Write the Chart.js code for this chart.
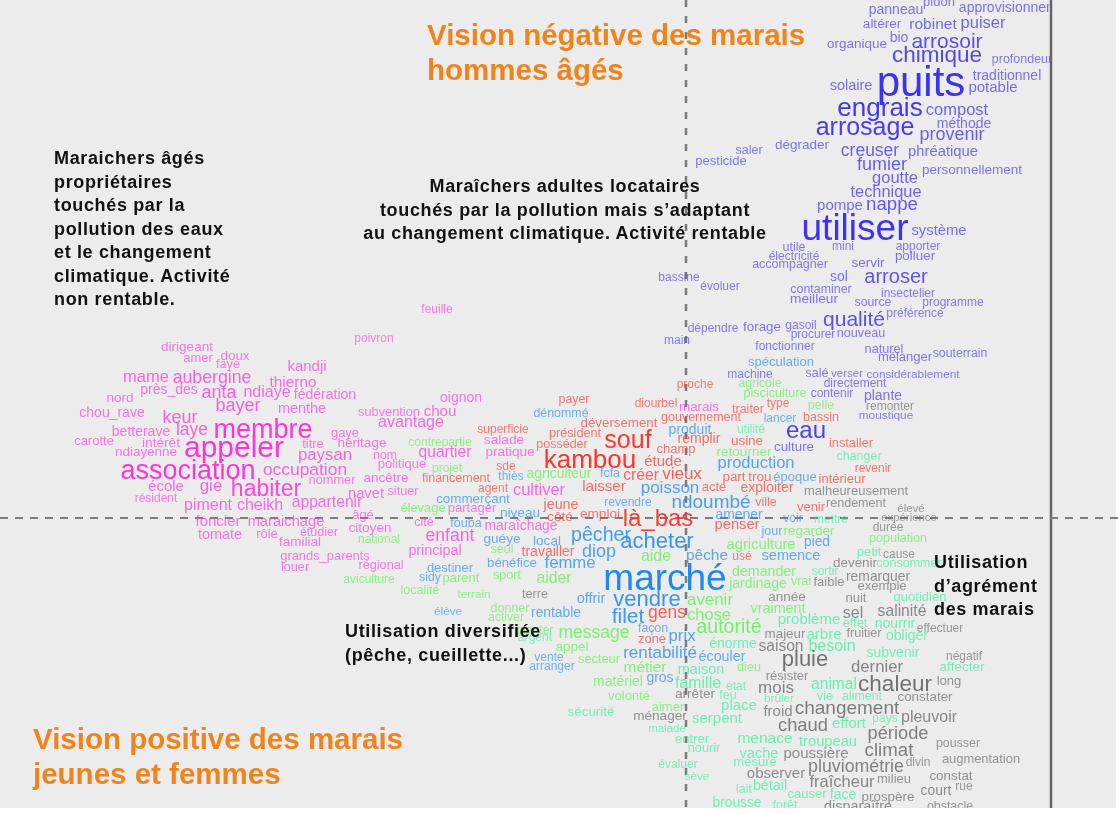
<!DOCTYPE html>
<html>
<head>
<meta charset="utf-8">
<script src="https://cdn.jsdelivr.net/npm/chart.js@4"></script>
<style>
html, body { margin: 0; padding: 0; background: #fff; }
#page { position: relative; width: 1118px; height: 814px; overflow: hidden; filter: blur(0.6px); }
#panel { position: absolute; left: 0; top: 0; width: 1116px; height: 808px; background: #ececec; }
canvas { position: absolute; left: 0; top: 0; }
.note { position: absolute; font-family: "Liberation Sans", Arial, sans-serif; font-weight: bold; white-space: nowrap; }
.black { color: #111; font-size: 18px; line-height: 23.5px; letter-spacing: 0.65px; }
.orange { color: #f0841c; font-size: 29.5px; line-height: 35px; }
</style>
</head>
<body>
<div id="page">
    <div id="panel"></div>
    <canvas id="cloud" width="1118" height="814"></canvas>
    <div class="note orange" style="left:427px;top:17px">Vision négative des marais<br>hommes âgés</div>
    <div class="note orange" style="left:33px;top:721px">Vision positive des marais<br>jeunes et femmes</div>
    <div class="note black" style="left:54px;top:147px">Maraichers âgés<br>propriétaires<br>touchés par la<br>pollution des eaux<br>et le changement<br>climatique. Activité<br>non rentable.</div>
    <div class="note black" style="left:360px;top:175px;width:410px;text-align:center">Maraîchers adultes locataires<br>touchés par la pollution mais s’adaptant<br>au changement climatique. Activité rentable</div>
    <div class="note black" style="left:345px;top:620px">Utilisation diversifiée<br>(pêche, cueillette...)</div>
    <div class="note black" style="left:934px;top:551px">Utilisation<br>d’agrément<br>des marais</div>
</div>
<script>
//violet group
const violetWords = ['panneau','pidon','approvisionnement','altérer','robinet','puiser','organique','bio','arrosoir','chimique',
    'profondeur','traditionnel','puits','solaire','potable','engrais','compost','méthode','arrosage','provenir',
    'saler','dégrader','creuser','phréatique','pesticide','fumier','personnellement','goutte','technique','pompe',
    'nappe','utiliser','système','utile','mini','apporter','électricité','polluer','accompagner','servir',
    'sol','arroser','bassine','évoluer','contaminer','meilleur','insectelier','source','programme','qualité',
    'préférence','dépendre','forage','gasoil','procurer','nouveau','main','fonctionner','naturel','mélanger',
    'souterrain','machine','salé','verser','considérablement','directement','contenir','plante','moustique','eau',
    'culture']
const violetX = [210,253,332,196,247,297,171,213,261,251,
    336,321,235,165,307,194,271,278,179,266,
    63,116,184,257,35,196,286,209,200,154,
    206,169,253,108,157,232,108,229,104,182,
    153,210,-7,34,135,128,222,187,267,168,
    229,27,76,115,127,175,-9,99,198,219,
    274,64,131,161,227,169,146,197,200,120,
    108]
const violetY = [509,516,511,494,494,495,474,481,477,463,
    459,443,436,433,431,410,408,395,391,384,
    368,373,368,367,357,354,348,340,326,313,
    314,290,288,271,272,272,262,262,254,255,
    242,242,241,232,229,219,225,216,216,199,
    205,190,191,193,184,185,178,172,169,161,
    165,144,145,145,144,135,125,123,103,88,
    71]
const violetFreq = [14,13,14,13.5,15.5,16.5,13.5,14,21,22.5,
    12.5,14,42,14.5,15,26,16.5,14,25,18,
    12.5,13.5,17.5,14.8,13,18,13.5,16.5,16.4,15,
    18.7,37,14.8,12.5,12,12,12,13.4,12.5,13.5,
    14,20,12,12,12.4,13.7,12,12.3,12,21,
    12,12,13.4,12,12,12.6,12,12,12.7,13,
    12.3,12,12.6,11.6,11.8,12,12,14,11.8,24,
    13.3]

//red group
const redWords = ['proche','diourbel','traiter','type','bassin','gouvernement','remplir','usine','installer','champ',
    'étude','vieux','revenir','part','trou','intérieur','acte','exploiter','ville','venir',
    'penser','créer','là_bas','souf','kambou','déversement','président','posséder','payer','superficie',
    'sde','financement','agent','laisser','jeune','côté','emploi','travailler','usé','gens',
    'zone']
const redX = [9,-30,62,92,135,15,13,61,165,-10,
    -23,-4,187,48,74,156,28,81,80,125,
    51,-45,-28,-58,-96,-67,-111,-124,-112,-183,
    -180,-230,-193,-82,-125,-126,-86,-138,56,-19,
    -34]
const redY = [134,115,109,115,101,101,80,77,75,69,
    57,45,50,41,41,39,31,31,16,11,
    -6,43,0,78,58,95,85,74,119,89,
    52,40,30,32,14,1,4,-33,-38,-94,
    -121]
const redFreq = [12,12,12.5,12,12.5,12.5,14,13.4,12.8,13,
    15,17,12,13.4,13.5,13,13,14,12.5,13,
    14.7,15.7,24,25,26,13.3,12.7,12.5,12.4,12,
    12,12.5,12,15,14.3,13.7,13.6,14,12,17.5,
    13]

//blue group
const blueWords = ['spéculation','dénommé','produit','lancer','production','époque','poisson','ndoumbé','revendre','amener',
    'voir','jour','thiès','fcfa','commerçant','niveau','fouba','guéye','local','pêcher',
    'diop','femme','bénéfice','destiner','sidy','offrir','élève','rentable','acheter','pêche',
    'semence','pied','marché','vendre','filet','façon','prix','rentabilité','écouler','vente',
    'arranger','gros']
const blueX = [95,-125,4,94,70,109,-16,25,-58,53,
    107,86,-175,-76,-213,-166,-220,-184,-139,-85,
    -87,-116,-174,-236,-256,-95,-238,-130,-29,21,
    105,131,-21,-39,-58,-33,-4,-26,36,-137,
    -134,-26]
const blueY = [156,105,89,100,55,41,31,16,16,4,
    0,-13,42,45,19,5,-5,-21,-23,-17,
    -33,-45,-45,-50,-59,-80,-93,-95,-23,-37,
    -37,-24,-60,-81,-98,-110,-118,-134,-138,-139,
    -148,-159]
const blueFreq = [13,12.4,14,12,16.5,13,17,19,12,13.9,
    12,12.5,12,12.4,13.4,13.6,12.5,13.6,13.6,19.6,
    18,16.7,13.2,13,12.4,14.5,11.7,13.8,22,15.4,
    14.5,13.8,37,22,21,12.3,16.8,17,14.3,12,
    12,14]

//pink group
const pinkWords = ['feuille','poivron','dirigeant','amer','doux','faye','kandji','mame','aubergine','thierno',
    'près_des','anta','ndiaye','fédération','nord','bayer','menthe','chou_rave','keur','laye',
    'membre','betterave','gaye','héritage','titre','carotte','intérêt','ndiayenne','appeler','paysan',
    'nom','quartier','salade','pratique','subvention','chou','avantage','oignon','politique','ancêtre',
    'nommer','occupation','association','école','gie','habiter','navet','situer','résident','piment',
    'cheikh','appartenir','âgé','foncier','maraichage','tomate','rôle','étudier','citoyen','familial',
    'grands_parents','louer','régional','cité','partager','maraîchage','enfant','principal','cultiver','marais']
const pinkX = [-249,-312,-499,-488,-451,-458,-379,-540,-474,-393,
    -517,-467,-419,-361,-566,-448,-384,-574,-506,-494,
    -423,-545,-341,-324,-373,-592,-525,-540,-452,-361,
    -301,-241,-182,-176,-297,-246,-275,-225,-284,-300,
    -354,-381,-498,-520,-475,-420,-320,-283,-530,-478,
    -426,-359,-323,-468,-400,-466,-419,-367,-316,-386,
    -361,-391,-305,-262,-214,-165,-236,-251,-147,13]
const pinkY = [209,180,171,160,162,154,152,141,141,136,
    129,126,126,124,120,113,110,106,101,89,
    89,87,85,75,74,77,75,66,71,63,
    63,66,78,66,106,107,96,121,54,40,
    38,49,48,32,33,29,25,27,20,13,
    13,16,3,-3,-3,-16,-16,-14,-10,-24,
    -38,-49,-47,-4,10,-8,-17,-32,28,111]
const pinkFreq = [12,12,13.5,13,13.4,12.7,15,16.5,17.7,15.4,
    14,18,16,14,13.5,18,14.4,14,18,17.5,
    27,14,13,13.5,13,13,13.7,13.4,30,16.8,
    12.3,15.6,13.7,13.6,12.8,15,16,14,13,13.5,
    12.8,17.4,27,15,17,23,14.7,12.7,12,16,
    16,15.7,13,15,14.7,14.4,13,12.5,13.6,13.5,
    12.9,12.7,12.7,12.5,13,13.8,17.6,14.3,16.4,13.3]

//lime group
const limeWords = ['agricole','pisciculture','pelle','retourner','contrepartie','projet','agriculteur','élevage','national','seul',
    'parent','sport','aider','aviculture','localité','terrain','donner','activer','aide','agriculture',
    'regarder','demander','jardinage','vrai','population','avenir','chose','autorité','vraiment','message',
    'appel','secteur','métier','matériel','volonté','aimer','dieu','planter']
const limeX = [74,89,135,58,-246,-239,-127,-263,-307,-184,
    -225,-179,-132,-317,-266,-212,-176,-180,-30,75,
    123,78,72,115,212,24,23,43,92,-92,
    -114,-87,-41,-68,-57,-18,63,-151]
const limeY = [135,125,113,66,76,50,45,10,-21,-31,
    -60,-57,-60,-61,-72,-76,-90,-99,-38,-26,
    -13,-53,-65,-63,-20,-81,-97,-109,-90,-114,
    -129,-141,-149,-163,-178,-189,-149,-112]
const limeFreq = [12.3,12.6,12.3,13.5,12,12,13.9,12.9,12,12.5,
    13,12.6,15.7,12,12.5,11.7,12.5,12.2,16,14.8,
    13.5,14.2,14,12.4,12.6,16.9,16.5,19.5,14.3,17.5,
    13.5,12.8,15.5,14,13,13,12.6,12]

//teal group
const tealWords = ['utilité','changer','mettre','consommer','petit','sortir','quotidien','problème','effet','nourrir',
    'obliger','arbre','besoin','subvenir','énorme','maison','famille','état','feu','place',
    'sécurité','serpent','malade','entrer','nourir','évaluer','sève','brousse','forêt','lait',
    'bétail','causer','face','mesure','vache','menace','troupeau','effort','pays','animal',
    'vie','aliment','brûler','affecter','argent']
const tealX = [65,173,145,223,183,139,234,123,169,209,
    221,138,146,207,47,15,12,50,42,53,
    -95,31,-19,6,18,-8,11,51,99,58,
    84,121,157,69,73,79,142,163,199,148,
    139,176,93,276,-151]
const tealY = [89,62,-1,-45,-34,-53,-79,-101,-105,-105,
    -117,-116,-128,-134,-125,-151,-165,-168,-177,-187,
    -194,-200,-210,-221,-230,-246,-258,-285,-287,-271,
    -267,-276,-276,-244,-235,-220,-223,-205,-200,-166,
    -178,-178,-180,-149,-119]
const tealFreq = [12,12.5,12,12.5,13,12,13,15,12.8,14,
    14,15,16,14,14,14.5,16,12,12.5,15,
    13.4,15,11.5,13,12.8,12,11.5,13.8,12.5,12.5,
    14.3,13,14,13,14.6,15.5,14.7,15,12,15.6,
    13,12.4,11.8,13.5,12]

//gray group
const grayWords = ['remonter','malheureusement','rendement','élevé','expérience','durée','terre','année','devenir','cause',
    'remarquer','faible','exemple','nuit','sel','salinité','fruitier','effectuer','majeur','saison',
    'pluie','négatif','dernier','résister','long','mois','chaleur','constater','arrêter','ménager',
    'froid','changement','pleuvoir','chaud','période','pousser','poussière','climat','divin','augmentation',
    'pluviométrie','observer','milieu','constat','fraîcheur','court','rue','prospère','disparaître','obstacle']
const grayX = [204,170,170,225,223,202,-151,101,169,213,
    192,143,196,170,167,216,178,254,99,95,
    119,278,191,101,263,90,209,239,9,-26,
    92,161,243,117,212,272,130,203,232,295,
    170,90,208,265,156,250,278,202,172,264]
const grayY = [112,27,15,10,1,-9,-76,-79,-45,-36,
    -58,-64,-68,-80,-95,-93,-115,-110,-116,-128,
    -141,-138,-149,-158,-163,-169,-166,-179,-176,-198,
    -193,-190,-199,-207,-215,-225,-235,-232,-244,-241,
    -248,-255,-261,-258,-264,-272,-268,-279,-288,-288]
const grayFreq = [12,13,12.5,11.5,11.4,12,12.6,13.5,13.4,12,
    13.9,13,13,13,16,15.7,12.6,12,13.4,15.6,
    22,12,16.7,13,13,17,22.5,13.4,13.6,13.6,
    15,19,16,18.4,18.3,12.4,15,18.7,12,12.9,
    17.8,15,13,13.4,16.5,13.9,12,13.4,14.4,12.4]

function wordSet(words, xs, ys, freq, rgb) {
    return {
        type: 'scatter',
        data: words.map((w, i) => ({ x: xs[i], y: ys[i] })),
        words: words,
        freq: freq,
        rgb: rgb,
        pointRadius: 0,
        pointHoverRadius: 0,
        showLine: false
    }
}

function refLine(xs, ys, color, dash, width) {
    return {
        type: 'scatter',
        data: [{ x: xs[0], y: ys[0] }, { x: xs[1], y: ys[1] }],
        showLine: true,
        borderColor: color,
        borderDash: dash,
        borderWidth: width,
        pointRadius: 0
    }
}

// draws the words at the points of their dataset
const wordsPlugin = {
    id: 'words',
    afterDatasetsDraw(chart) {
        const ctx = chart.ctx
        ctx.save()
        ctx.beginPath()
        ctx.rect(0, 0, chart.scales.x.getPixelForValue(364), chart.scales.y.getPixelForValue(-290))
        ctx.clip()
        ctx.textAlign = 'center'
        ctx.textBaseline = 'middle'
        chart.data.datasets.forEach((set, s) => {
            if (!set.words) return
            chart.getDatasetMeta(s).data.forEach((pt, i) => {
                const f = set.freq[i]
                const alpha = Math.min(1, 0.62 + (f - 12) * 0.025)
                ctx.font = f + 'px "Liberation Sans", Arial, sans-serif'
                ctx.fillStyle = `rgba(${set.rgb},${alpha})`
                ctx.fillText(set.words[i], pt.x, pt.y + f * 0.05)
            })
        })
        ctx.restore()
    }
}

new Chart(document.getElementById('cloud'), {
    type: 'scatter',
    data: {
        datasets: [
            refLine([-686, 432], [0, 0], '#7c7c7c', [8, 7], 2),
            refLine([0, 0], [518, -290], '#7c7c7c', [7, 9], 2.5),
            refLine([365, 365], [518, -290], '#666666', [], 2.5),
            wordSet(violetWords, violetX, violetY, violetFreq, '60,50,240'),
            wordSet(redWords, redX, redY, redFreq, '255,45,35'),
            wordSet(blueWords, blueX, blueY, blueFreq, '30,135,240'),
            wordSet(pinkWords, pinkX, pinkY, pinkFreq, '255,50,220'),
            wordSet(limeWords, limeX, limeY, limeFreq, '85,240,70'),
            wordSet(tealWords, tealX, tealY, tealFreq, '50,240,150'),
            wordSet(grayWords, grayX, grayY, grayFreq, '95,95,95')
        ]
    },
    plugins: [wordsPlugin],
    options: {
        responsive: false,
        devicePixelRatio: 1,
        animation: false,
        layout: { padding: 0 },
        plugins: { legend: { display: false }, tooltip: { enabled: false } },
        scales: {
            x: { type: 'linear', min: -686, max: 432, display: false },
            y: { type: 'linear', min: -296, max: 518, display: false }
        }
    }
})
</script>
</body>
</html>
